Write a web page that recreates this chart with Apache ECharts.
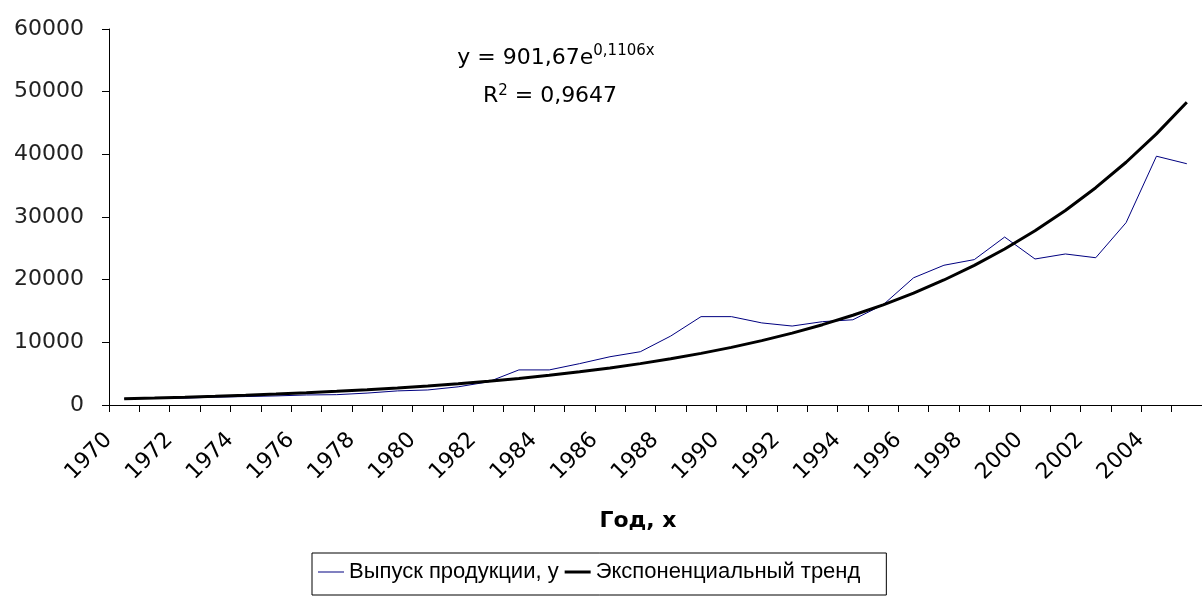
<!DOCTYPE html>
<html>
<head>
<meta charset="utf-8">
<script src="https://cdn.jsdelivr.net/npm/echarts@6/dist/echarts.min.js"></script>
<style>
  html, body { margin: 0; padding: 0; background: #fff; }
  #chart { width: 1202px; height: 607px; }
</style>
</head>
<body>
<div id="chart"></div>
<script>
// годы
const years = [
  '1970', '1971', '1972', '1973', '1974', '1975', '1976', '1977', '1978', '1979',
  '1980', '1981', '1982', '1983', '1984', '1985', '1986', '1987', '1988', '1989',
  '1990', '1991', '1992', '1993', '1994', '1995', '1996', '1997', '1998', '1999',
  '2000', '2001', '2002', '2003', '2004', '2005'
];
// Выпуск продукции, y
const output = [
  1000, 1050, 1100, 1250, 1350, 1450, 1600, 1650, 1900, 2250,
  2400, 2900, 3700, 5600, 5600, 6600, 7700, 8500, 11000, 14100,
  14100, 13100, 12600, 13300, 13600, 16000, 20300, 22300, 23200, 26800,
  23300, 24100, 23500, 29100, 39700, 38500
];
// Экспоненциальный тренд (values of the drawn curve)
const trend = [
  1007, 1125, 1256, 1403, 1567, 1751, 1955, 2184, 2440, 2725,
  3044, 3399, 3797, 4241, 4737, 5291, 5910, 6601, 7373, 8235,
  9198, 10274, 11475, 12817, 14316, 15990, 17860, 19948, 22281, 24887,
  27797, 31048, 34679, 38734, 43263, 48323
];
const yTicks = { min: 0, max: 60000, interval: 10000 };

const chart = echarts.init(document.getElementById('chart'));
const option = {
  backgroundColor: '#fff',
  animation: false,
  grid: { left: 109, top: 29, width: 1096, height: 376 },
  xAxis: {
    type: 'category',
    data: years,
    boundaryGap: true,
    axisLine: { lineStyle: { color: '#000', width: 1 } },
    axisTick: { show: true, interval: 0, length: 7, lineStyle: { color: '#000' } },
    axisLabel: {
      interval: 1,
      rotate: 45,
      margin: 16,
      padding: [0, 22, 0, 0],
      color: '#000',
      fontFamily: 'DejaVu Sans',
      fontSize: 22
    },
    splitLine: { show: false }
  },
  yAxis: {
    type: 'value',
    min: yTicks.min,
    max: yTicks.max,
    interval: yTicks.interval,
    axisLine: { show: true, lineStyle: { color: '#000', width: 1 } },
    axisTick: { show: true, length: 7, lineStyle: { color: '#000' } },
    axisLabel: {
      margin: 25,
      color: '#222',
      fontFamily: 'DejaVu Sans',
      fontSize: 22,
      formatter: v => String(v)
    },
    splitLine: { show: false }
  },
  legend: {
    left: 312,
    top: 553,
    orient: 'horizontal',
    borderColor: '#000',
    borderWidth: 1,
    borderRadius: 0,
    padding: [8, 26, 12, 6],
    itemGap: 6,
    itemWidth: 26,
    itemHeight: 14,
    symbolKeepAspect: true,
    textStyle: { fontFamily: 'Liberation Sans', fontSize: 22, color: '#000' },
    data: [
      { name: 'Выпуск продукции, у', icon: 'path://M0,0 L26,0 L26,1 L0,1 Z', itemStyle: { color: '#000080' } },
      { name: 'Экспоненциальный тренд', icon: 'path://M0,0 L26,0 L26,3 L0,3 Z', itemStyle: { color: '#000' } }
    ]
  },
  graphic: [
    {
      type: 'text',
      x: 556,
      y: 44,
      style: {
        text: '{m|y = 901,67e}{s|0,1106x}',
        align: 'center',
        textAlign: 'center',
        rich: {
          m: { fontFamily: 'DejaVu Sans', fontSize: 22, fill: '#000', color: '#000', verticalAlign: 'bottom' },
          s: { fontFamily: 'DejaVu Sans', fontSize: 15, fill: '#000', color: '#000', verticalAlign: 'top', padding: [0, 0, 10, 0] }
        }
      }
    },
    {
      type: 'text',
      x: 550,
      y: 84,
      style: {
        text: '{m|R}{s|2}{m| = 0,9647}',
        align: 'center',
        textAlign: 'center',
        rich: {
          m: { fontFamily: 'DejaVu Sans', fontSize: 22, fill: '#000', color: '#000' },
          s: { fontFamily: 'DejaVu Sans', fontSize: 15, fill: '#000', color: '#000', padding: [0, 0, 10, 0] }
        }
      }
    },
    {
      type: 'text',
      x: 638,
      y: 510,
      style: {
        text: 'Год, х',
        align: 'center',
        textAlign: 'center',
        font: 'bold 22px "DejaVu Sans"',
        fill: '#000'
      }
    }
  ],
  series: [
    {
      name: 'Выпуск продукции, у',
      type: 'line',
      data: output,
      symbol: 'none',
      lineStyle: { color: '#000080', width: 1 },
      itemStyle: { color: '#000080' }
    },
    {
      name: 'Экспоненциальный тренд',
      type: 'line',
      data: trend,
      symbol: 'none',
      lineStyle: { color: '#000', width: 3 },
      itemStyle: { color: '#000' }
    }
  ]
};
chart.setOption(option);
</script>
</body>
</html>
